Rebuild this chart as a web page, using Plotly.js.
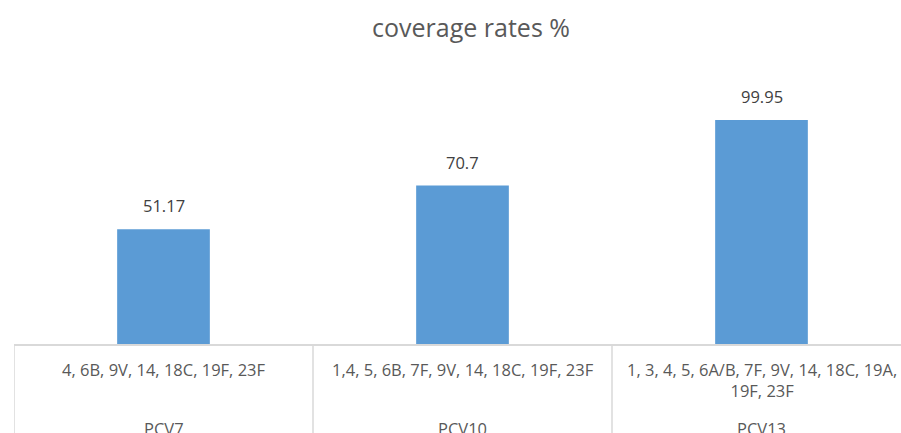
<!DOCTYPE html>
<html>
<head>
<meta charset="utf-8">
<script src="https://cdn.plot.ly/plotly-3.0.1.min.js"></script>
<style>
  html, body { margin: 0; padding: 0; overflow: hidden; background: #fff; }
  #chart { width: 911px; height: 433px; }
</style>
</head>
<body>
<div id="chart"></div>
<script>
const vaccines = ["PCV7", "PCV10", "PCV13"];
const serotypes = [
  "4, 6B, 9V, 14, 18C, 19F, 23F",
  "1,4, 5, 6B, 7F, 9V, 14, 18C, 19F, 23F",
  "1, 3, 4, 5, 6A/B, 7F, 9V, 14, 18C, 19A,<br>19F, 23F"
];
const coverage = [51.17, 70.7, 99.95];
const chartTitle = "coverage rates %";

const FONT = "'Open Sans', 'Noto Sans', sans-serif";
const GREY = "#595959";
const LINE = "#d9d9d9";

const trace = {
  type: "bar",
  x: vaccines,
  y: coverage,
  marker: { color: "#5b9bd5" },
  width: 0.31,
  hoverinfo: "x+y"
};

const shapes = [];
for (let i = 0; i <= vaccines.length; i++) {
  shapes.push({
    type: "line", xref: "x", yref: "paper",
    x0: i - 0.5, x1: i - 0.5, y0: 0, y1: -0.5,
    line: { color: LINE, width: 1.5 }
  });
}

const annotations = [];
vaccines.forEach((v, i) => {
  annotations.push({
    x: v, xref: "x", y: coverage[i], yref: "y",
    yanchor: "bottom", yshift: 10, showarrow: false,
    text: String(coverage[i]),
    font: { family: FONT, size: 16.5, color: "#404040" }
  });
  annotations.push({
    x: v, xref: "x", y: 0, yref: "paper",
    yanchor: "top", yshift: -12, showarrow: false,
    text: serotypes[i], align: "center",
    font: { family: FONT, size: 16.5, color: GREY }
  });
  annotations.push({
    x: v, xref: "x", y: 0, yref: "paper",
    yanchor: "top", yshift: -71, showarrow: false,
    text: v, align: "center",
    font: { family: FONT, size: 16.5, color: GREY }
  });
});

const layout = {
  width: 911, height: 433,
  margin: { l: 14, r: 0, t: 75, b: 89 },
  paper_bgcolor: "#fff", plot_bgcolor: "#fff",
  title: {
    text: chartTitle, x: 0.5095, xref: "paper", xanchor: "center",
    y: 0.935, yanchor: "middle",
    font: { family: FONT, size: 25, color: GREY }
  },
  xaxis: {
    type: "category", range: [-0.5, 2.5],
    showticklabels: false, ticks: "", showgrid: false,
    showline: true, linecolor: LINE, linewidth: 1.5, zeroline: false
  },
  yaxis: {
    range: [0, 120], visible: false, showgrid: false, zeroline: false
  },
  shapes: shapes,
  annotations: annotations,
  showlegend: false
};

Plotly.newPlot("chart", [trace], layout, { displayModeBar: false, staticPlot: true });
</script>
</body>
</html>
